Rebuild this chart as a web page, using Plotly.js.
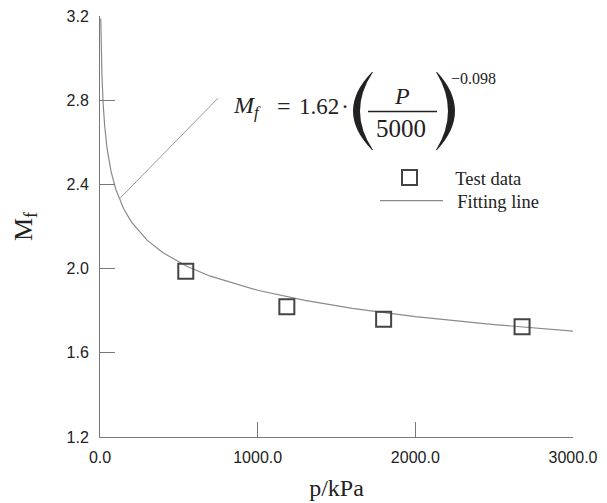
<!DOCTYPE html>
<html>
<head>
<meta charset="utf-8">
<script src="https://cdn.plot.ly/plotly-3.0.1.min.js"></script>
<style>html,body{margin:0;padding:0;background:#fff;}#chart{width:607px;height:503px;}</style>
</head>
<body>
<div id="chart"></div>
<script>
// Test data
const testP = [544, 1185, 1799, 2677];
const testMf = [1.987, 1.819, 1.759, 1.724];

// Fitting line
const fitP = [5, 8, 12, 20, 30, 45, 70, 100, 150, 200, 300, 400, 550, 700, 1000, 1300, 1600, 2000, 2500, 3000];
const fitMf = [3.188, 3.044, 2.926, 2.783, 2.675, 2.570, 2.462, 2.377, 2.284, 2.221, 2.134, 2.075, 2.011, 1.964, 1.897, 1.849, 1.811, 1.772, 1.734, 1.703];

// Ticks
const xTicks = [0, 1000, 2000, 3000];
const yTicks = [1.2, 1.6, 2.0, 2.4, 2.8, 3.2];

const serif = 'Liberation Serif, Times New Roman, serif';
const sans = 'Liberation Sans, Arial, sans-serif';
const ink = '#222';

// plot-area pixel helpers for formula decoration (paper coords)
const L = 100, R = 573, T = 16, B = 437;
const px = x => (x - L) / (R - L);
const py = y => (B - y) / (B - T);

function parenPath(x0, cOut, cIn, d) {
  const top = 72, bot = 150, mid = 111;
  const p = (x, y) => px(x) + ',' + py(y);
  return 'M' + p(x0, top) + ' Q' + p(cOut, mid) + ' ' + p(x0, bot) +
         ' L' + p(x0 + d, bot) + ' Q' + p(cIn, mid) + ' ' + p(x0 + d, top) + ' Z';
}

const traces = [
  {
    x: fitP, y: fitMf, type: 'scatter', mode: 'lines', name: '\u00a0\u00a0Fitting line',
    line: {color: '#8a8a8a', width: 1.2}, legend: 'legend2'
  },
  {
    x: testP, y: testMf, type: 'scatter', mode: 'markers', name: '\u00a0\u00a0Test data',
    marker: {symbol: 'square-open', size: 15, color: '#444', line: {width: 2, color: '#444'}},
    legend: 'legend'
  }
];

function txt(x, y, text, size, xanchor) {
  return {xref: 'paper', yref: 'paper', x: px(x), y: py(y), xanchor: xanchor || 'center', yanchor: 'middle',
          text: text, showarrow: false, font: {family: serif, size: size, color: ink}};
}

const legendBase = {
  xanchor: 'left', yanchor: 'top', bgcolor: 'rgba(0,0,0,0)', borderwidth: 0,
  font: {family: serif, size: 18.5, color: ink}, itemwidth: 63
};

const layout = {
  width: 607, height: 503,
  margin: {l: L, r: 607 - R, t: T, b: 503 - B},
  paper_bgcolor: '#fff', plot_bgcolor: '#fff',
  showlegend: true,
  legend: Object.assign({x: px(373), y: py(159)}, legendBase),
  legend2: Object.assign({x: px(375), y: py(182)}, legendBase),
  xaxis: {
    range: [0, 3000], tickvals: xTicks, tickformat: '.1f',
    ticks: 'inside', ticklen: 15, tickcolor: '#777', tickwidth: 1,
    showline: true, linecolor: '#777', linewidth: 1,
    showgrid: false, zeroline: false,
    tickfont: {family: sans, size: 16, color: ink},
    ticklabelstandoff: 6,
    title: {text: 'p/kPa', font: {family: serif, size: 24, color: ink}, standoff: 13}
  },
  yaxis: {
    range: [1.2, 3.2], tickvals: yTicks, tickformat: '.1f',
    ticks: 'inside', ticklen: 15, tickcolor: '#777', tickwidth: 1,
    showline: true, linecolor: '#777', linewidth: 1,
    showgrid: false, zeroline: false,
    tickfont: {family: sans, size: 16, color: ink},
    ticklabelstandoff: 7,
    title: {text: 'M<sub>f</sub>', font: {family: serif, size: 26, color: ink}, standoff: 26}
  },
  shapes: [
    {type: 'line', xref: 'x', yref: 'y', x0: 123, y0: 2.331, x1: 749, y1: 2.81,
     line: {color: '#999', width: 1}},
    {type: 'line', xref: 'paper', yref: 'paper', x0: px(368), x1: px(437), y0: py(111.5), y1: py(111.5),
     line: {color: ink, width: 1.5}},
    {type: 'path', xref: 'paper', yref: 'paper', path: parenPath(372, 334, 347, 1), fillcolor: ink, line: {width: 0}},
    {type: 'path', xref: 'paper', yref: 'paper', path: parenPath(437, 473, 460, -1), fillcolor: ink, line: {width: 0}}
  ],
  annotations: [
    txt(231, 107, '<i>M<sub>f</sub></i>', 24, 'left'),
    txt(284, 106, '=', 24),
    txt(297, 106, '1.62', 23, 'left'),
    txt(345, 106, '·', 24),
    txt(402, 96, '<i>P</i>', 24),
    txt(401, 128, '5000', 25),
    txt(449, 78, '−0.098', 16, 'left')
  ]
};

Plotly.newPlot('chart', traces, layout, {displayModeBar: false, staticPlot: true});
</script>
</body>
</html>
